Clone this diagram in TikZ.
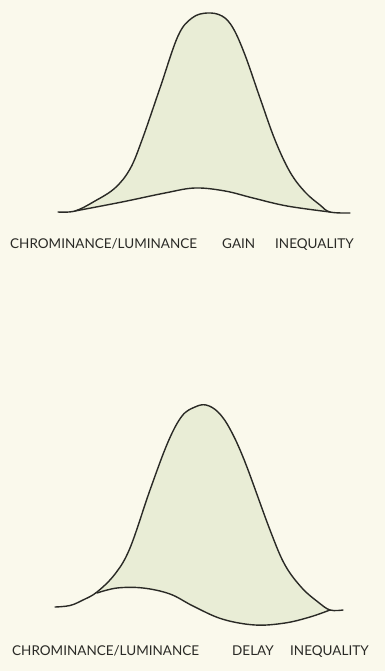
\documentclass[tikz,border=0pt]{standalone}
\usepackage{fontspec}
\setmainfont{Lato}
\definecolor{paper}{HTML}{FAF9EC}
\definecolor{fillgreen}{HTML}{E9EDD6}
\definecolor{ink}{HTML}{2A2A26}
\tikzset{
  curve/.style={draw=ink,line width=1.4pt,line cap=round},
  lab/.style={inner sep=0pt,anchor=base west,text=ink,font=\fontsize{13.5}{14}\selectfont}
}
\def\topbig{(75,211) (95,201) (115,188) (130,169) (142,140) (160,88) (178,36) (192,18) (207,13) (222,16) (233,28) (245,55) (260,98) (275,140) (290,172) (305,192) (320,205) (330,212)}
\def\toplow{(330,212) (287,206) (253,198) (225,191) (195,188) (165,193) (122,202) (75,211)}
\def\botbig{(97,592) (115,574) (130,548) (150,490) (168,442) (182,416) (195,407) (206,405) (218,412) (230,429) (245,462) (270,530) (285,565) (302,588) (318,602) (330,610)}
\def\botlow{(330,610) (310,617) (285,623) (255,625) (222,619) (193,606) (170,594) (143,588) (117,588) (97,593)}
\begin{document}
\begin{tikzpicture}[x=1pt,y=-1pt]
\fill[paper] (0,0) rectangle (385,671);
\useasboundingbox (0,0) rectangle (385,671);
% top graph
\fill[fillgreen] plot[smooth,tension=0.6] coordinates {\topbig} -- plot[smooth,tension=0.6] coordinates {\toplow} -- cycle;
\draw[curve] plot[smooth,tension=0.6] coordinates {(58,212) \topbig (350,213)};
\draw[curve] plot[smooth,tension=0.6] coordinates {\toplow};
\node[lab] (t1) at (10,248) {CHROMINANCE/LUMINANCE};
\node[lab] (t2) at (222,248) {GAIN};
\node[lab] (t3) at (275,248) {INEQUALITY};
% bottom graph
\fill[fillgreen] plot[smooth,tension=0.6] coordinates {\botbig} -- plot[smooth,tension=0.6] coordinates {\botlow} -- cycle;
\draw[curve] plot[smooth,tension=0.6] coordinates {(55,607) (70,605.5) (83,600) \botbig (343,610)};
\draw[curve] plot[smooth,tension=0.6] coordinates {\botlow};
\node[lab] (b1) at (12,655) {CHROMINANCE/LUMINANCE};
\node[lab] (b2) at (232,655) {DELAY};
\node[lab] (b3) at (290,655) {INEQUALITY};
\end{tikzpicture}
\end{document}
